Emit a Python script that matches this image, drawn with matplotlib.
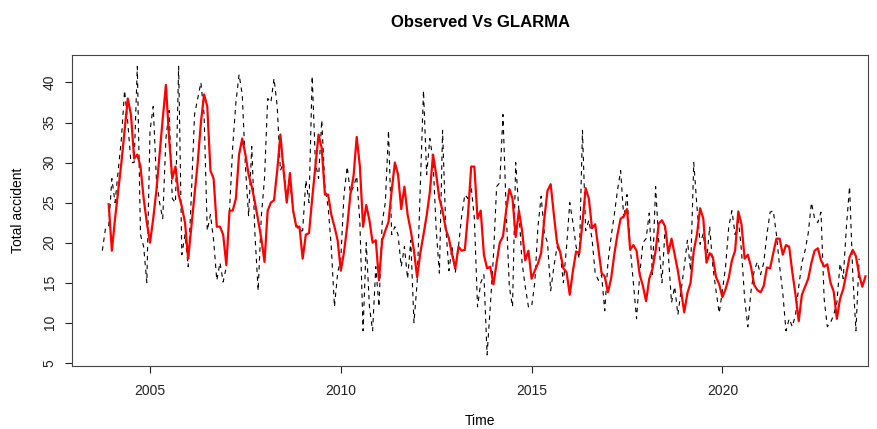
import numpy as np
import matplotlib.pyplot as plt

plt.rcParams['font.family'] = ['Liberation Sans', 'DejaVu Sans']

# monthly totals, observed series starts Oct 2003, fitted series starts Dec 2003
obs_start = 2003 + 9 / 12.0
fit_start = 2003 + 11 / 12.0

observed = [
    19, 21.8, 22, 28, 25, 29, 33, 39, 35, 30, 30, 42, 21, 19.5, 15, 34, 37, 28, 25, 23,
    33, 36.5, 25.5, 25, 42, 18.5, 21, 17, 26, 36, 38, 40, 36, 21.5, 23.5, 20.3, 15.3, 17.5, 15.1, 17,
    24, 32, 37.5, 41, 38.5, 29.5, 23.3, 32, 21, 14, 23.3, 28, 38, 37.5, 40.5, 37, 29, 30, 25.3, 27.5,
    24, 22.3, 21.4, 21.5, 27.8, 25, 40.8, 30, 28, 35.3, 27, 24.5, 19.5, 12, 16.2, 18, 26, 29.5, 26.2, 27,
    28.3, 22.5, 9, 20, 12, 9, 17, 12, 22.5, 25, 34, 21, 22, 21, 17, 19.5, 15.5, 20.3, 10, 15,
    27, 39, 28.5, 33, 30.3, 21.6, 16.2, 34, 22, 16.5, 19.5, 16.2, 19.5, 23.3, 26, 25.5, 27, 23, 12, 15,
    16, 6, 12, 18.3, 27, 27.5, 36, 24, 14.5, 12, 30, 24, 17.5, 14.5, 12, 12, 15, 22, 25.8, 21.2,
    20, 14, 17, 19.5, 18.7, 15, 19.5, 25, 22.5, 19.5, 18, 34, 21.5, 22.8, 20.5, 16.2, 15.3, 16, 11.5, 17.5,
    20.7, 23.5, 26.5, 29, 23, 26, 19.5, 15, 10.5, 16, 20, 20.5, 23.7, 16, 27, 20, 15, 22, 18.5, 12.5,
    14.5, 11, 14, 17, 20.3, 16.5, 30, 24.5, 19.8, 21.2, 17.5, 22, 17, 14, 11.2, 14, 17, 22, 24, 21,
    23, 19, 13, 9.5, 14, 16.5, 17.6, 16, 17.5, 21, 23.8, 24, 21, 17, 13.7, 9, 10.5, 9.5, 11, 14.5,
    17.5, 19, 21.2, 25, 23, 22.5, 23.8, 13, 9.5, 10, 11, 12.5, 17.4, 15.5, 22, 27, 16, 9, 18,
]

glarma = [
    24.8, 19, 23, 26.5, 30, 34, 38, 36, 30.5, 31, 29.5, 25.5, 22.5, 20, 23, 26.5, 31, 35.5, 39.7, 33,
    28, 29.5, 26, 24.5, 22.5, 18, 22, 26, 30, 35, 38.5, 37, 29, 28, 22, 22, 21, 17.2, 24, 24,
    25.5, 31, 33, 31, 28.5, 27, 25, 22.8, 20.5, 17.6, 24, 25, 25.3, 29, 33.5, 29, 25, 28.7, 24, 22,
    22, 18, 21, 21.2, 25.5, 29.5, 33.5, 31.8, 26, 26, 23.5, 22, 20.3, 16.5, 18.8, 22, 26, 28.3, 33.2, 29.5,
    22, 24.7, 22.8, 20, 20.3, 15.3, 20.3, 21.5, 22.6, 26.5, 30, 28.5, 24.2, 27, 23.5, 21.5, 19, 15.7, 18.7, 21,
    23.4, 26.3, 31, 28.5, 25.5, 24, 21.7, 20.5, 18.5, 16.8, 19.5, 19, 19.1, 23.5, 29.5, 29.5, 23, 24, 18.5, 16.8,
    17, 14.8, 17.5, 20, 20.8, 24, 26.7, 25.5, 20.7, 24, 21.5, 17.8, 19, 15.5, 16.5, 17.4, 18.7, 23, 26.5, 27.3,
    23.5, 20, 18.8, 16.8, 16.3, 13.5, 16.5, 18.9, 18.7, 22.5, 26.8, 25.5, 21.8, 22.3, 19.2, 16.2, 15.8, 13.8, 15.5, 18.5,
    21, 23, 23.3, 24.2, 19.1, 19.7, 19, 16, 14.6, 12.7, 15.5, 16.7, 19, 22.4, 22.8, 22, 18.7, 20.5, 18.5, 16.5,
    14, 11.3, 13.7, 15, 19, 21, 24.3, 23, 17.5, 18.7, 18.2, 15.7, 14.8, 13.2, 14.2, 15.6, 17.8, 19, 23.9, 22.3,
    18, 18.5, 17, 14.7, 14.1, 13.8, 14.6, 16.9, 16.8, 18.7, 20.5, 20.5, 18.5, 19.7, 19.5, 16.3, 13.5, 10.2, 13.5, 14.5,
    15.5, 17.5, 19, 19.3, 17.8, 17, 17.3, 15, 13.9, 10.5, 13, 14.2, 16.2, 18.2, 19.1, 18.3, 16, 14.5, 15.8,
]

x_ticks = [2005, 2010, 2015, 2020]
y_ticks = [5, 10, 15, 20, 25, 30, 35, 40]

t_obs = obs_start + np.arange(len(observed)) / 12.0
t_fit = fit_start + np.arange(len(glarma)) / 12.0

fig = plt.figure(figsize=(8.78, 4.29), dpi=100)
ax = fig.add_axes([0.082, 0.146, 0.907, 0.726])

ax.plot(t_obs, observed, color='black', lw=0.8, linestyle=(0, (4, 4)))
ax.plot(t_fit, glarma, color='red', lw=1.6)

ax.set_xlim(2002.955, 2023.825)
ax.set_ylim(4.56, 43.44)
ax.set_xticks(x_ticks)
ax.set_yticks(y_ticks)
ax.set_yticklabels([str(v) for v in y_ticks], rotation=90, va='center')
ax.tick_params(direction='out', length=5, width=0.8, labelsize=10, colors='#222222')
ax.tick_params(axis='x', pad=8)
ax.tick_params(axis='y', pad=6)
for s in ax.spines.values():
    s.set_linewidth(0.8)
    s.set_color('#444444')

ax.set_ylabel('Total accident', fontsize=10, labelpad=13)
# R-style outer titles, centred on the device region
fig.text(0.547, 0.018, 'Time', ha='center', va='center', fontsize=10)
fig.text(0.547, 0.948, 'Observed Vs GLARMA', ha='center', va='center',
         fontsize=12, fontweight='bold')

fig.savefig('out.png', dpi=100)
